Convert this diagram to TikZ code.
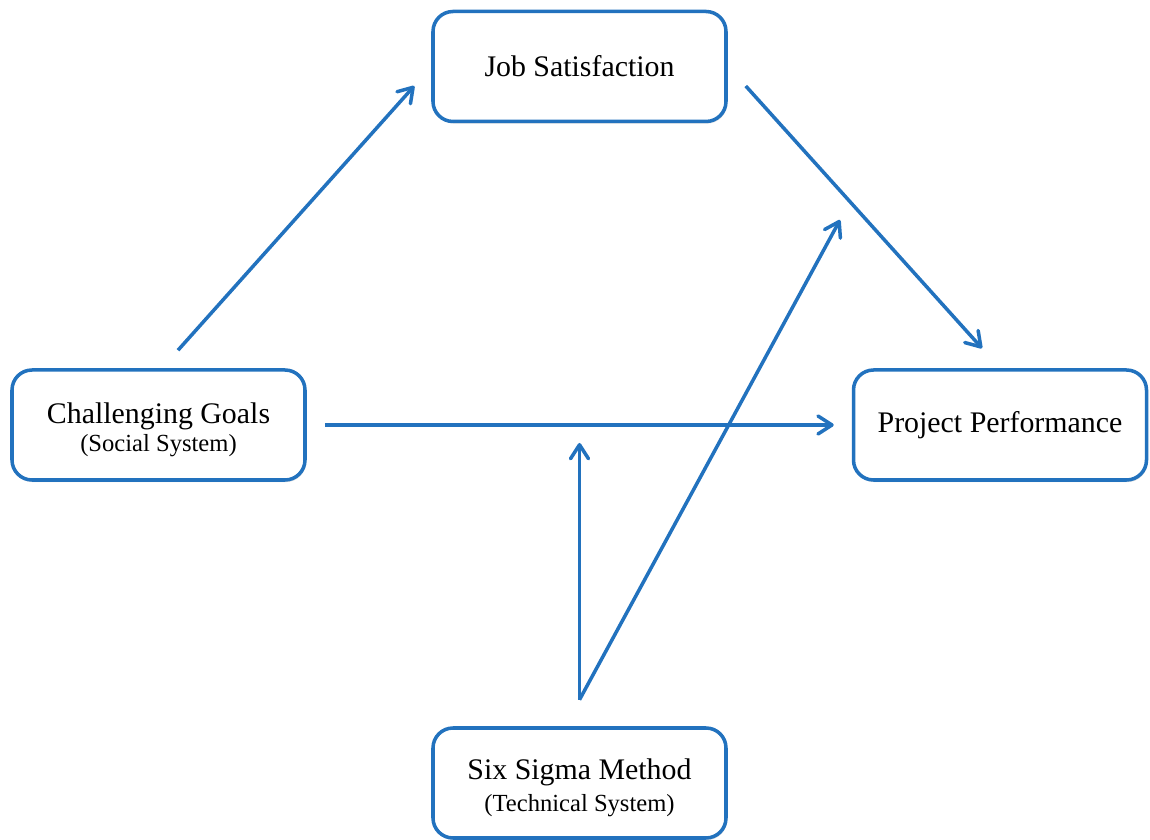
\documentclass[tikz,border=0pt]{standalone}
\usepackage{fontspec}
\setmainfont{Liberation Serif}
\usepackage{tikz}
\usetikzlibrary{calc,shapes,positioning}
\usetikzlibrary{shadows}
\usetikzlibrary{arrows.meta}
\definecolor{linkblue}{RGB}{34,114,190}
\tikzset{>={Straight Barb[width=3.6mm,length=2.8mm,line width=2pt,round]}}

\begin{document}
\begin{tikzpicture}
          \useasboundingbox (0,0) rectangle (23,16.8);
          % \tikzstyle{bnode} = [thick, draw=blue, rectangle]
          \tikzstyle{bnode} = [draw=linkblue, line width=2pt, rectangle, rounded corners = 0.4cm, fill=white,
            minimum width = 5.86cm, minimum height = 2.2cm, align=center,
            font=\fontsize{17}{20}\selectfont, drop shadow={shadow xshift=0.6pt, shadow yshift=-1.2pt, opacity=0.25}]
          \tikzstyle{link} = [->, draw=linkblue, line width=2pt]

          \node[bnode] (js) at (11.59, 15.47) {Job Satisfaction};
          \node[bnode] (cg) at (3.17, 8.30) {\rule{0pt}{17pt}Challenging Goals\\[-4pt]{\fontsize{14}{17}\selectfont (Social System)}};
          \node[bnode] (pp) at (20.0, 8.30) {Project Performance};
          \node[bnode] (ss) at (11.59, 1.14) {\rule{0pt}{17pt}Six Sigma Method\\[-2pt]{\fontsize{14}{17}\selectfont (Technical System)}};

          \coordinate (ssout) at ([yshift=0.53cm]ss.north);
          \coordinate (jsmod) at (16.80, 12.40);
          \draw[link] ([xshift=0.39cm, yshift=0.36cm]cg.north) to ([xshift=-0.34cm, yshift=-0.39cm]js.west);
          \draw[link] ([xshift=0.36cm, yshift=-0.39cm]js.east) to ([xshift=-0.36cm, yshift=0.40cm]pp.north);
          \draw[link, shorten <=0.36cm, shorten >=0.36cm] (cg) to (pp);
          \draw[link] (ssout) to ([yshift=-0.36cm]ssout |- cg.east);
          \draw[link] (ssout) to (jsmod);
        \end{tikzpicture}
\end{document}
